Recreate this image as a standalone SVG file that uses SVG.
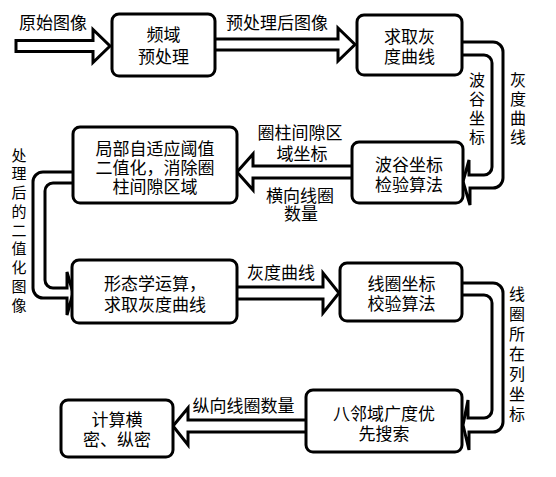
<svg xmlns="http://www.w3.org/2000/svg" width="556" height="477" viewBox="0 0 556 477">
<style>
.box{fill:#fff;stroke:#000;stroke-width:3}
.arr{fill:#fff;stroke:#000;stroke-width:3;stroke-linejoin:miter}
text{font-family:"Noto Sans CJK SC","Noto Sans CJK JP",sans-serif;font-size:17px;fill:#000;text-anchor:middle;dominant-baseline:central}
.v{font-size:16px}
.vs{font-size:15px}
</style>
<rect width="556" height="477" fill="#fff"/>
<g id="connectors">
<path class="arr" d="M16,40.5 H93 V29.5 L110,46 L93,62.5 V51.5 H16 Z"/>
<path class="arr" d="M215,39 H338 V28 L355,44.5 L338,61 V50 H215"/>
<path class="arr" d="M462,42 H493 A10,10 0 0 1 503,52 V178 A10,10 0 0 1 493,188 H470 V205 L463,181.5 L469,160 V175 H484 A8,8 0 0 0 492,167 V63 A8,8 0 0 0 484,55 H462"/>
<path class="arr" d="M352,166 H253 V154 L237,172 L253,190 V178 H352"/>
<path class="arr" d="M73,172 H43 A10,10 0 0 0 33,182 V288 A10,10 0 0 0 43,298 H67 V315 L73,293 L67,272 V288 H53 A8,8 0 0 1 45,280 V191 A8,8 0 0 1 53,183 H73"/>
<path class="arr" d="M237,287 H323 V273 L339,293 L323,313 V299 H237"/>
<path class="arr" d="M462,283 H493 A10,10 0 0 1 503,293 V422 A10,10 0 0 1 493,432 H469 V450 L463,425 L468,400 V418 H484 A8,8 0 0 0 492,410 V303 A8,8 0 0 0 484,295 H462"/>
<path class="arr" d="M306,420 H188 V408 L173,426 L188,445 V432 H306"/>
</g>
<g id="labels">
<text x="53" y="21">原始图像</text>
<text x="277" y="21">预处理后图像</text>
<text class="v"><tspan x="477" y="79">波</tspan><tspan x="477" y="98">谷</tspan><tspan x="477" y="117">坐</tspan><tspan x="477" y="136">标</tspan></text>
<text class="v"><tspan x="518" y="79">灰</tspan><tspan x="518" y="98">度</tspan><tspan x="518" y="117">曲</tspan><tspan x="518" y="136">线</tspan></text>
<text x="300" y="131">圈柱间隙区</text>
<text x="302" y="152">域坐标</text>
<text x="300" y="194">横向线圈</text>
<text x="301" y="212">数量</text>
<text class="vs"><tspan x="19" y="153.5">处</tspan><tspan x="19" y="172.3">理</tspan><tspan x="19" y="191">后</tspan><tspan x="19" y="209.8">的</tspan><tspan x="19" y="228.5">二</tspan><tspan x="19" y="247.3">值</tspan><tspan x="19" y="266">化</tspan><tspan x="19" y="284.8">图</tspan><tspan x="19" y="303.5">像</tspan></text>
<text x="281" y="271">灰度曲线</text>
<text class="v"><tspan x="517" y="292.5">线</tspan><tspan x="517" y="312.5">圈</tspan><tspan x="517" y="332.5">所</tspan><tspan x="517" y="352.5">在</tspan><tspan x="517" y="372.5">列</tspan><tspan x="517" y="392.5">坐</tspan><tspan x="517" y="412.5">标</tspan></text>
<text x="243.5" y="404">纵向线圈数量</text>
</g>
<g id="n1"><rect class="box" x="112" y="14" width="103" height="62" rx="7"/><text x="163.5" y="33">频域</text><text x="163.5" y="55">预处理</text></g>
<g id="n2"><rect class="box" x="357" y="15" width="105" height="60" rx="7"/><text x="409.5" y="35">求取灰</text><text x="409.5" y="55">度曲线</text></g>
<g id="n3"><rect class="box" x="352" y="142" width="111" height="61" rx="7"/><text x="409" y="163">波谷坐标</text><text x="409" y="183">检验算法</text></g>
<g id="n4"><rect class="box" x="73" y="127" width="164" height="76" rx="7"/><text x="155" y="147">局部自适应阈值</text><text x="155" y="166">二值化，消除圈</text><text x="155" y="185">柱间隙区域</text></g>
<g id="n5"><rect class="box" x="72" y="260" width="165" height="63" rx="7"/><text x="155" y="282">形态学运算，</text><text x="155" y="303">求取灰度曲线</text></g>
<g id="n6"><rect class="box" x="340" y="263" width="122" height="58" rx="7"/><text x="401.5" y="282">线圈坐标</text><text x="401.5" y="302">校验算法</text></g>
<g id="n7"><rect class="box" x="306" y="390" width="156" height="62" rx="7"/><text x="384" y="412">八邻域广度优</text><text x="384" y="432">先搜索</text></g>
<g id="n8"><rect class="box" x="61" y="400" width="112" height="57" rx="7"/><text x="117" y="418">计算横</text><text x="117" y="438">密、纵密</text></g>
</svg>
